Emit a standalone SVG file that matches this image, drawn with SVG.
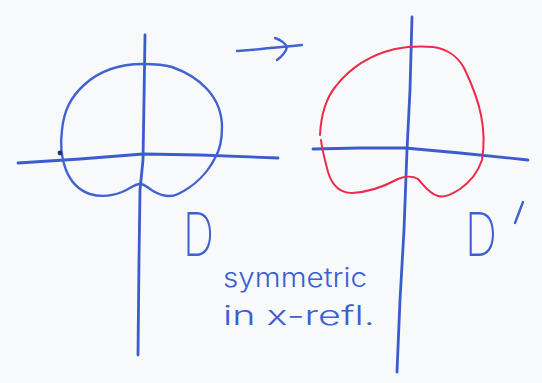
<svg xmlns="http://www.w3.org/2000/svg" width="542" height="383" viewBox="0 0 542 383">
<style>
.ax{fill:none;stroke:#3a5ccc;stroke-width:2.8;stroke-linecap:round;stroke-linejoin:round}
.bl{fill:none;stroke:#4262cf;stroke-width:2.4;stroke-linecap:round;stroke-linejoin:round}
.rd{fill:none;stroke:#ec2a4a;stroke-width:2;stroke-linecap:round;stroke-linejoin:round}
.hw{fill:#3d5fd0;font-family:Inter,"Open Sans","DejaVu Sans",sans-serif;font-weight:200}
.nt{font-weight:300}
</style>
<rect width="542" height="383" fill="#f8f9fb"/>
<g id="left-figure">
<path class="ax" d="M145,35 L144,100 L143,160 L140,190 L139,260 L138,355"/>
<path class="ax" d="M18,163 L80,159 L143,154 L200,155 L278,158"/>
<path class="bl" d="M143,64 C152,64 162,64 172,67 C186,72 198,79 207,89 C217,100 222,112 222,127 C222,140 220,150 215,158 C208,172 195,186 178,194 C170,198 160,195 153,191 C148,188 145,184 140,184 C134,184 130,189 122,192 C112,196 100,197 90,194 C78,190 70,180 66,170 C62,160 60,145 62,130 C64,110 71,97 84,85 C98,72 118,64 143,64 Z"/>
<circle cx="60" cy="153" r="2.4" fill="#223366"/>
<text class="hw" x="183" y="256" font-size="60" textLength="31" lengthAdjust="spacingAndGlyphs">D</text>
</g>
<g id="right-figure">
<path class="ax" d="M412,17 L410,90 L407,150 L404,230 L400,300 L397,372"/>
<path class="ax" d="M313,149 L360,148 L405,148 L460,153 L528,160"/>
<path class="rd" d="M320,135 C321,115 326,98 336,86 C350,68 370,55 395,49 C405,47 420,46 433,47 C448,49 460,58 466,72 C472,85 478,100 481,115 C484,130 484,148 482,160 C478,172 470,182 460,189 C452,194 445,198 438,196 C428,193 423,184 418,179 C413,176 405,176 398,179 C385,186 370,192 352,193 C340,193 332,185 328,172 C325,160 322,150 321,140"/>
<text class="hw" x="465" y="256" font-size="60" textLength="32" lengthAdjust="spacingAndGlyphs">D</text>
<path class="bl" d="M523,202 L515,223" stroke-width="3.2"/>
</g>
<g id="connectors">
<path class="bl" d="M237,51 C250,50 262,49 270,48 C282,47 292,46 302,45"/>
<path class="bl" d="M275,38 C281,40 286,44 287,47 C286,52 281,57 277,60"/>
</g>
<g id="note">
<text class="hw nt" x="223" y="287" font-size="27" textLength="144" lengthAdjust="spacingAndGlyphs">symmetric</text>
<text class="hw nt" x="223" y="325" font-size="27" textLength="152" lengthAdjust="spacingAndGlyphs">in x-refl.</text>
</g>
</svg>
